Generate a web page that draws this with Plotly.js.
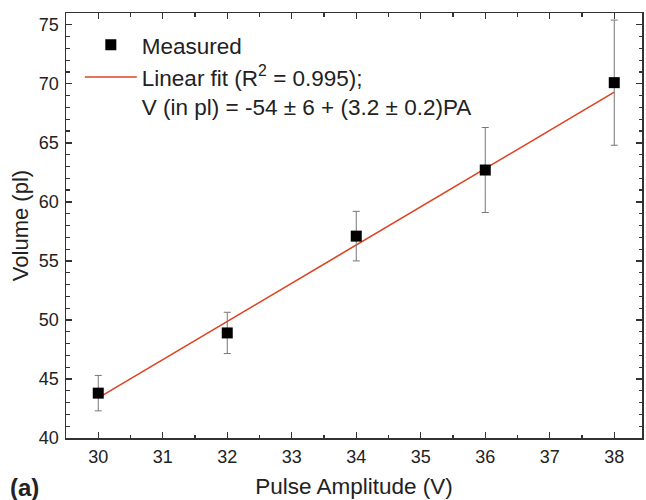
<!DOCTYPE html>
<html><head><meta charset="utf-8">
<script src="https://cdn.plot.ly/plotly-3.0.1.min.js"></script>
<style>body{margin:0;background:#fff}#chart{width:646px;height:500px}</style>
</head><body><div id="chart"></div>
<script>
const pulseAmplitude = [30, 32, 34, 36, 38];
const volume = [43.8, 48.9, 57.1, 62.7, 70.1];
const volumeErr = [1.5, 1.75, 2.1, 3.6, 5.3];
const fitX = [30, 38];
const fitY = [43.4, 69.3];
const measuredName = 'Measured';
const fitName = 'Linear fit (R<sup>2</sup> = 0.995);<br>V (in pl) = -54 ± 6 + (3.2 ± 0.2)PA';

const font = 'Liberation Sans, Arial, sans-serif';
const traces = [
  {x: fitX, y: fitY, mode: 'lines', name: fitName,
   line: {color: '#dd4422', width: 1.6}},
  {x: pulseAmplitude, y: volume, mode: 'markers', name: measuredName,
   marker: {symbol: 'square', size: 11, color: '#000'},
   error_y: {type: 'data', array: volumeErr, visible: true, color: '#777', thickness: 1, width: 3.5}}
];
const axisCommon = {
  showline: true, linecolor: '#333', linewidth: 1.5, mirror: 'allticks',
  ticks: 'inside', ticklen: 6, tickwidth: 1.3, tickcolor: '#333',
  showgrid: false, zeroline: false,
  tickfont: {family: font, size: 18, color: '#222'}
};
const layout = {
  width: 646, height: 500,
  margin: {l: 66, r: 4, t: 13, b: 62},
  paper_bgcolor: '#fff', plot_bgcolor: '#fff',
  xaxis: Object.assign({}, axisCommon, {
    range: [29.5, 38.43], dtick: 1, tick0: 30, ticklabelstandoff: 2,
    minor: {dtick: 0.5, ticks: 'inside', ticklen: 3.5, tickcolor: '#333', tickwidth: 1.2},
    title: {text: 'Pulse Amplitude (V)', font: {family: font, size: 22.5, color: '#222'}, standoff: 12}
  }),
  yaxis: Object.assign({}, axisCommon, {
    range: [40, 76], dtick: 5, tick0: 40, ticklabelstandoff: 2,
    minor: {dtick: 1, ticks: 'inside', ticklen: 3.5, tickcolor: '#333', tickwidth: 1.2},
    title: {text: 'Volume (pl)', font: {family: font, size: 22, color: '#222'}, standoff: 4}
  }),
  legend: {x: 0.024, y: 0.975, xanchor: 'left', yanchor: 'top', traceorder: 'reversed',
    valign: 'top', bgcolor: 'rgba(0,0,0,0)', font: {family: font, size: 22.5, color: '#222'},
    itemwidth: 52, tracegroupgap: 0},
  showlegend: true,
  annotations: [{text: '<b>(a)</b>', xref: 'paper', yref: 'paper', x: -0.1007, y: -0.1153,
    xanchor: 'left', yanchor: 'middle', showarrow: false,
    font: {family: font, size: 24, color: '#222'}}]
};
Plotly.newPlot('chart', traces, layout, {displayModeBar: false, staticPlot: true});
</script></body></html>
